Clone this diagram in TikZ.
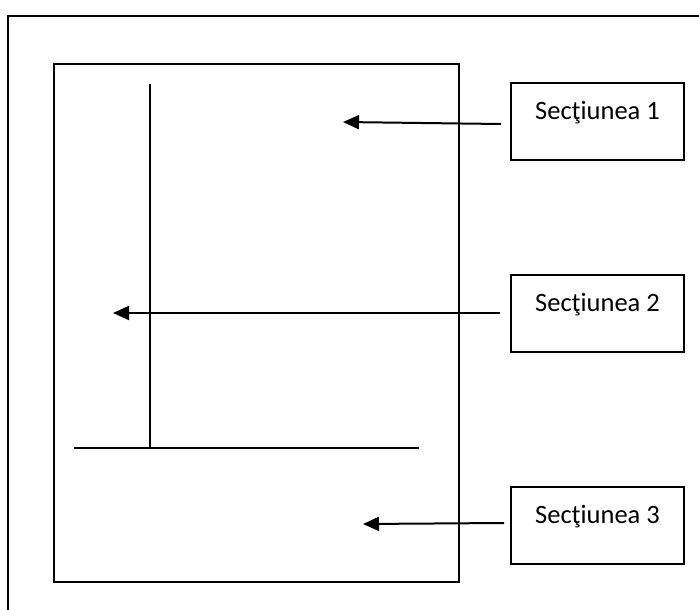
\documentclass[tikz,border=0pt]{standalone}
\usepackage{fontspec}
\setmainfont{Carlito}
\usetikzlibrary{arrows.meta}
\tikzset{
  frame/.style={draw=black, line width=1.9pt},
  rule/.style={draw=black, line width=1.8pt},
  pointer/.style={draw=black, line width=2pt, -{Triangle[length=16pt,width=14pt]}},
  secbox/.style={draw=black, line width=1.8pt, minimum width=173pt, inner sep=0pt,
    text height=36.5pt, text depth=40.5pt, font=\fontsize{26.5}{30}\selectfont}
}
\begin{document}
\begin{tikzpicture}[x=1pt, y=-1pt]
  \useasboundingbox (0,0) rectangle (699,610);
  \clip (0,0) rectangle (699,610);
  % page frame, running past the right and bottom edges
  \draw[frame] (8,16) rectangle (730,640);
  % layout sheet
  \draw[frame] (54,64) rectangle (459,582);
  \coordinate (vtop) at (150,84);
  \coordinate (vbot) at (150,448);
  \coordinate (hl) at (74,448);
  \coordinate (hr) at (419,448);
  \draw[rule] (vtop) -- (vbot);
  \draw[rule] (hl) -- (hr);
  % section labels
  \node[secbox] (s1) at (597.5,121.5) {Secţiunea 1};
  \node[secbox] (s2) at (597.5,313.5) {Secţiunea 2};
  \node[secbox] (s3) at (597.5,525.5) {Secţiunea 3};
  % arrow ends
  \coordinate (t1) at (501,124);
  \coordinate (p1) at (343,122);
  \coordinate (t2) at (500,313);
  \coordinate (p2) at (113,313);
  \coordinate (t3) at (504,523);
  \coordinate (p3) at (363,524);
  \draw[pointer] (t1) -- (p1);
  \draw[pointer] (t2) -- (p2);
  \draw[pointer] (t3) -- (p3);
\end{tikzpicture}
\end{document}
